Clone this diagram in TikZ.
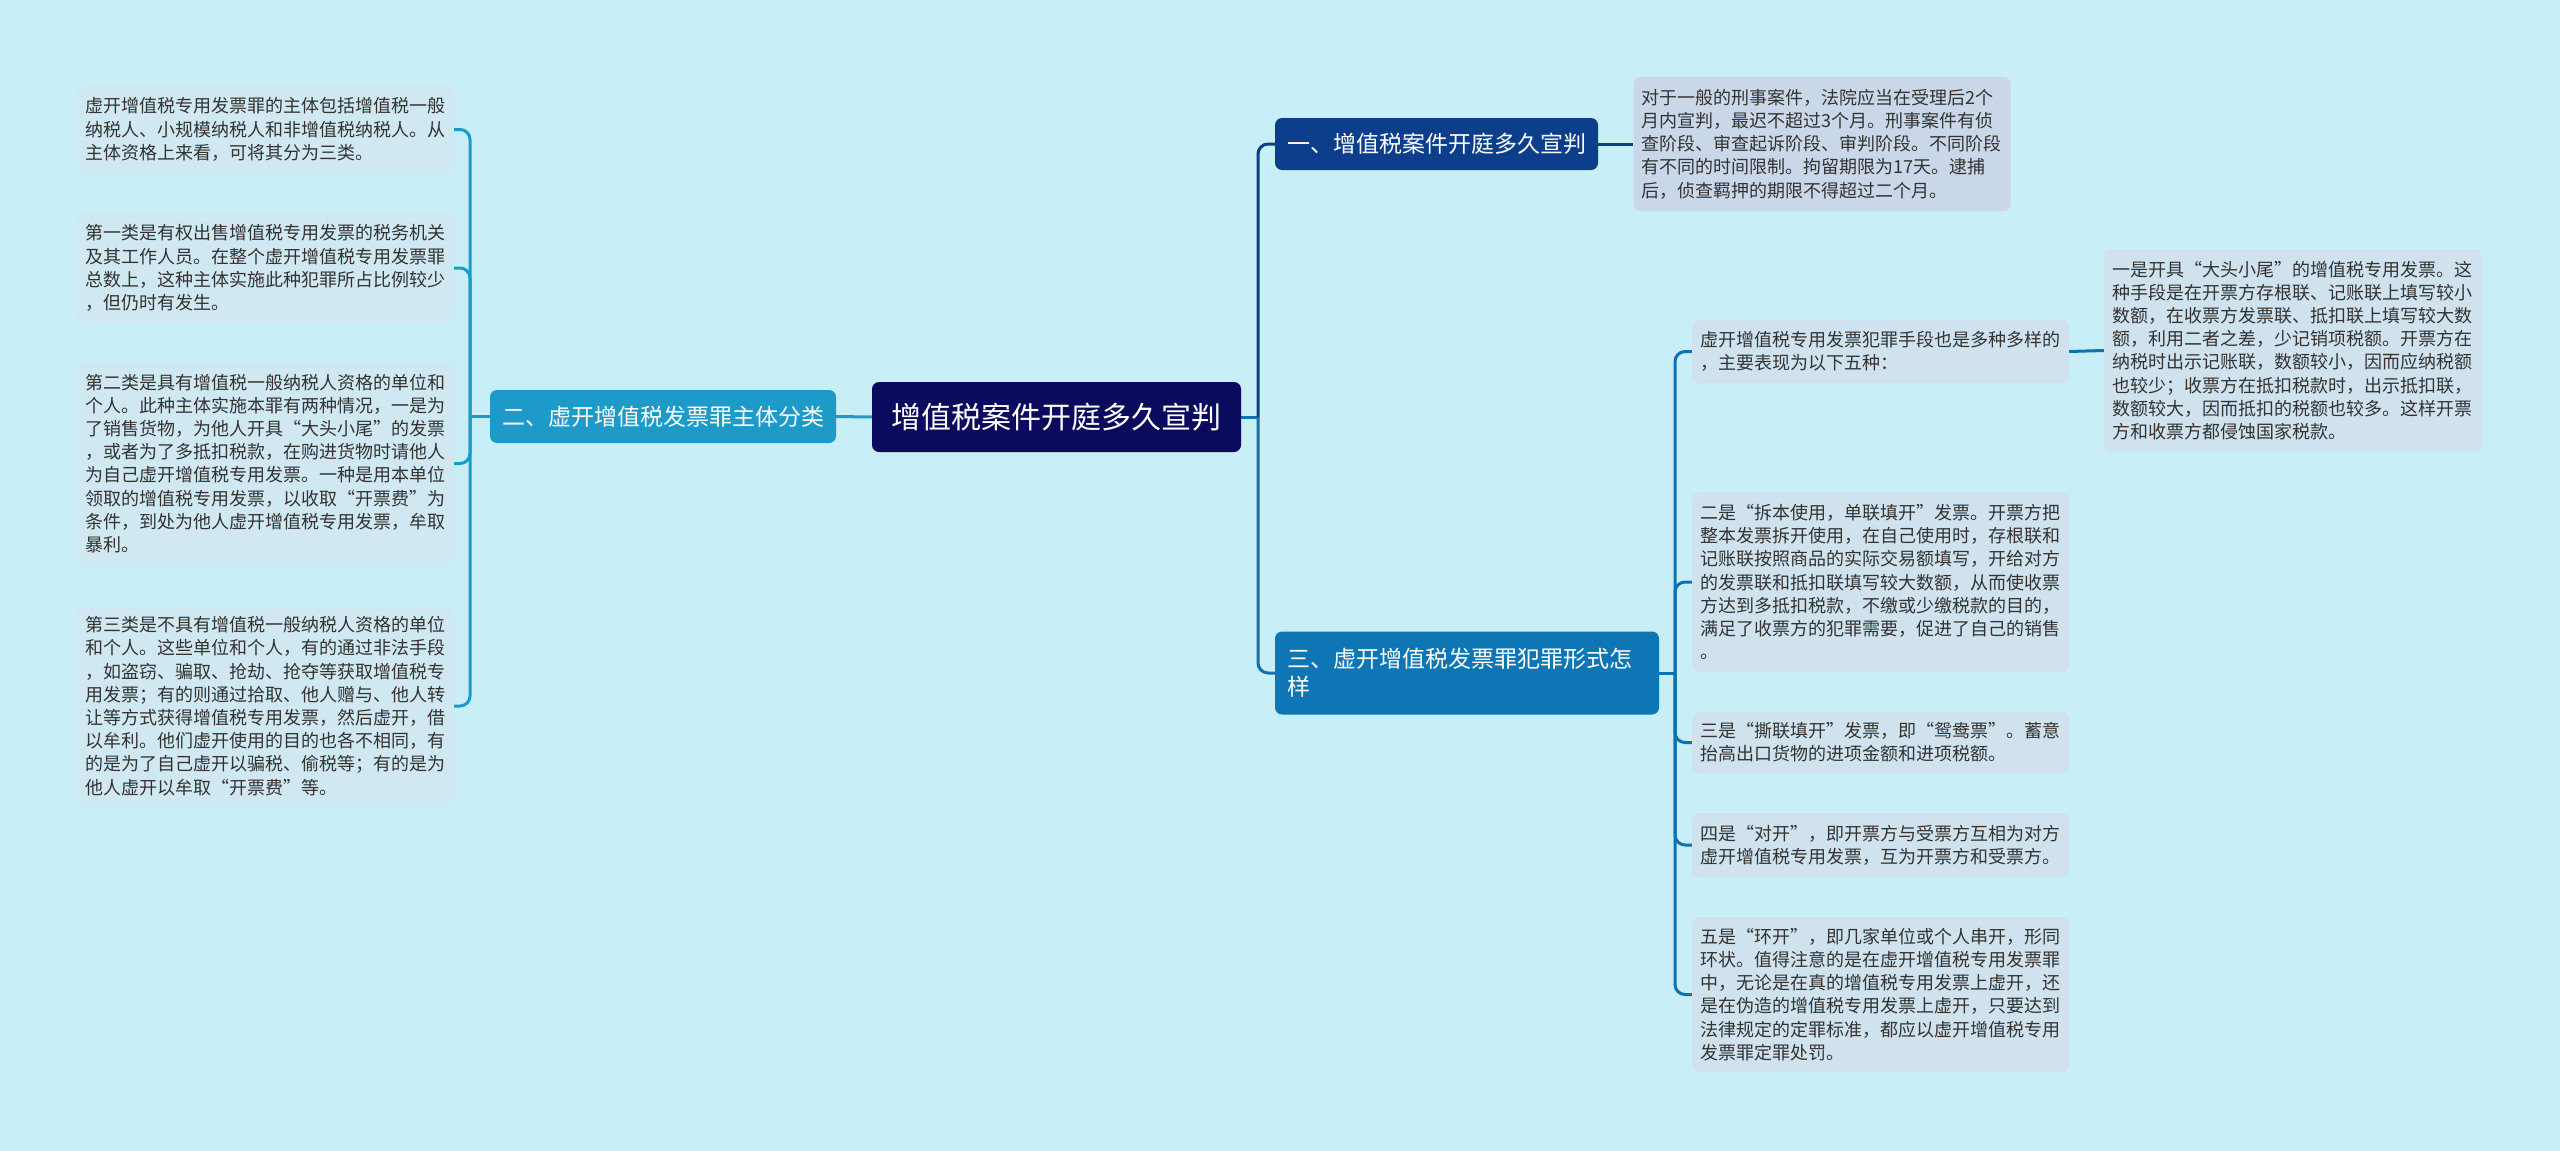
\documentclass[tikz,border=0pt]{standalone}
\usepackage{fontspec}
\setmainfont{Noto Sans CJK SC}
\definecolor{bgc}{HTML}{C8EEF7}
\definecolor{rootc}{HTML}{0A0B5C}
\definecolor{bonec}{HTML}{0C3E8B}
\definecolor{btwoc}{HTML}{1E9AC8}
\definecolor{bthreec}{HTML}{0F76B6}
\definecolor{leafc}{HTML}{D0E8F1}
\definecolor{leafgc}{HTML}{CAD7E8}
\definecolor{leafrc}{HTML}{CFE2EE}
\definecolor{txtc}{HTML}{333333}
\definecolor{lthreec}{HTML}{1170AE}
\tikzset{
  leafbox/.style={fill=leafc, rounded corners=7pt, align=left, text width=361pt,
    inner xsep=8pt, inner ysep=0pt, text=txtc, font=\fontsize{18}{23.2}\selectfont},
  mainbox/.style={rounded corners=7pt, text=white, inner sep=0pt},
  conn/.style={line width=3pt},
}
\begin{document}
\begin{tikzpicture}[x=1pt,y=-1pt]
\fill[bgc] (0,0) rectangle (2560,1151);
\useasboundingbox (0,0) rectangle (2560,1151);

% root and branches
\node[mainbox, fill=rootc, minimum width=369pt, minimum height=70pt,
  font=\fontsize{30}{36}\selectfont] (C) at (1056.5,417) {增值税案件开庭多久宣判};
\node[mainbox, fill=bonec, minimum width=323pt, minimum height=52pt,
  font=\fontsize{23}{28}\selectfont] (B1) at (1436.5,144) {一、增值税案件开庭多久宣判};
\node[mainbox, fill=btwoc, minimum width=346pt, minimum height=53pt,
  font=\fontsize{23}{28}\selectfont] (B2) at (663,416.5) {二、虚开增值税发票罪主体分类};
\node[mainbox, fill=bthreec, minimum width=384pt, minimum height=83pt, align=left,
  text width=360pt, font=\fontsize{23}{28}\selectfont] (B3) at (1467,673)
  {三、虚开增值税发票罪犯罪形式怎\\样};

% leaf of branch 1
\node[leafbox, fill=leafgc, minimum height=134pt] (T1) at (1822,144)
{对于一般的刑事案件，法院应当在受理后2个\\
月内宣判，最迟不超过3个月。刑事案件有侦\\
查阶段、审查起诉阶段、审判阶段。不同阶段\\
有不同的时间限制。拘留期限为17天。逮捕\\
后，侦查羁押的期限不得超过二个月。};

% leaves of branch 2
\node[leafbox, minimum height=86pt] (L1) at (265.5,129.5)
{虚开增值税专用发票罪的主体包括增值税一般\\
纳税人、小规模纳税人和非增值税纳税人。从\\
主体资格上来看，可将其分为三类。};
\node[leafbox, minimum height=108pt] (L2) at (265.5,268)
{第一类是有权出售增值税专用发票的税务机关\\
及其工作人员。在整个虚开增值税专用发票罪\\
总数上，这种主体实施此种犯罪所占比例较少\\
，但仍时有发生。};
\node[leafbox, minimum height=203pt] (L3) at (265.5,463.5)
{第二类是具有增值税一般纳税人资格的单位和\\
个人。此种主体实施本罪有两种情况，一是为\\
了销售货物，为他人开具“大头小尾”的发票\\
，或者为了多抵扣税款，在购进货物时请他人\\
为自己虚开增值税专用发票。一种是用本单位\\
领取的增值税专用发票，以收取“开票费”为\\
条件，到处为他人虚开增值税专用发票，牟取\\
暴利。};
\node[leafbox, minimum height=198pt] (L4) at (265.5,706)
{第三类是不具有增值税一般纳税人资格的单位\\
和个人。这些单位和个人，有的通过非法手段\\
，如盗窃、骗取、抢劫、抢夺等获取增值税专\\
用发票；有的则通过拾取、他人赠与、他人转\\
让等方式获得增值税专用发票，然后虚开，借\\
以牟利。他们虚开使用的目的也各不相同，有\\
的是为了自己虚开以骗税、偷税等；有的是为\\
他人虚开以牟取“开票费”等。};

% leaves of branch 3
\node[leafbox, fill=leafrc, minimum height=63pt] (R1) at (1880.5,351.5)
{虚开增值税专用发票犯罪手段也是多种多样的\\
，主要表现为以下五种：};
\node[leafbox, fill=leafrc, minimum height=203pt] (R1c) at (2292.5,350.5)
{一是开具“大头小尾”的增值税专用发票。这\\
种手段是在开票方存根联、记账联上填写较小\\
数额，在收票方发票联、抵扣联上填写较大数\\
额，利用二者之差，少记销项税额。开票方在\\
纳税时出示记账联，数额较小，因而应纳税额\\
也较少；收票方在抵扣税款时，出示抵扣联，\\
数额较大，因而抵扣的税额也较多。这样开票\\
方和收票方都侵蚀国家税款。};
\node[leafbox, fill=leafrc, minimum height=180pt] (R2) at (1880.5,582)
{二是“拆本使用，单联填开”发票。开票方把\\
整本发票拆开使用，在自己使用时，存根联和\\
记账联按照商品的实际交易额填写，开给对方\\
的发票联和抵扣联填写较大数额，从而使收票\\
方达到多抵扣税款，不缴或少缴税款的目的，\\
满足了收票方的犯罪需要，促进了自己的销售\\
。};
\node[leafbox, fill=leafrc, minimum height=61pt] (R3) at (1880.5,742.5)
{三是“撕联填开”发票，即“鸳鸯票”。蓄意\\
抬高出口货物的进项金额和进项税额。};
\node[leafbox, fill=leafrc, minimum height=64pt] (R4) at (1880.5,845)
{四是“对开”，即开票方与受票方互相为对方\\
虚开增值税专用发票，互为开票方和受票方。};
\node[leafbox, fill=leafrc, minimum height=155pt] (R5) at (1880.5,994.5)
{五是“环开”，即几家单位或个人串开，形同\\
环状。值得注意的是在虚开增值税专用发票罪\\
中，无论是在真的增值税专用发票上虚开，还\\
是在伪造的增值税专用发票上虚开，只要达到\\
法律规定的定罪标准，都应以虚开增值税专用\\
发票罪定罪处罚。};

% connectors
\coordinate (jC) at (1258,417);
\coordinate (jL) at (470,416.5);
\coordinate (jR) at (1675,673);

\draw[conn, lthreec] (C.east) -- (jC);
\draw[conn, bonec, rounded corners=10pt] (jC) |- (B1.west);
\draw[conn, lthreec, rounded corners=10pt] (jC) |- (B3.west);
\draw[conn, btwoc] (C.west) -- (B2.east);
\draw[conn, bonec] (B1.east) -- (T1.west);

\draw[conn, btwoc] (B2.west) -- (jL);
\foreach \n in {L1,L2,L3,L4}
  \draw[conn, btwoc, rounded corners=10pt] (jL) |- (\n.east);

\draw[conn, lthreec] (B3.east) -- (jR);
\foreach \n in {R1,R2,R3,R4,R5}
  \draw[conn, lthreec, rounded corners=10pt] (jR) |- (\n.west);
\draw[conn, lthreec] (R1.east) -- (R1c.west);
\end{tikzpicture}
\end{document}
